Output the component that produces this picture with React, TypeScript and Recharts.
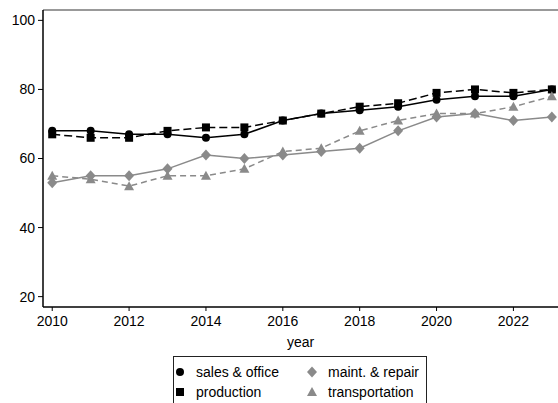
import { LineChart, Line, XAxis, YAxis, Legend, ReferenceLine } from 'recharts'

const years = [2010, 2011, 2012, 2013, 2014, 2015, 2016, 2017, 2018, 2019, 2020, 2021, 2022, 2023]
const salesOffice = [68, 68, 67, 67, 66, 67, 71, 73, 74, 75, 77, 78, 78, 80]
const production = [67, 66, 66, 68, 69, 69, 71, 73, 75, 76, 79, 80, 79, 80]
const maintRepair = [53, 55, 55, 57, 61, 60, 61, 62, 63, 68, 72, 73, 71, 72]
const transportation = [55, 54, 52, 55, 55, 57, 62, 63, 68, 71, 73, 73, 75, 78]
const xTicks = [2010, 2012, 2014, 2016, 2018, 2020, 2022]
const yTicks = [20, 40, 60, 80, 100]

const GRAY = '#8a8a8a'
const FONT = '"Liberation Sans", Arial, sans-serif'
const Y_TOP = 103

const data = years.map((year, i) => ({
  year,
  sales: salesOffice[i],
  production: production[i],
  maint: maintRepair[i],
  transport: transportation[i]
}))

const CircleDot = ({ cx, cy, color }: any) => <circle cx={cx} cy={cy} r={4} fill={color} />
const SquareDot = ({ cx, cy, color }: any) => <rect x={cx - 4} y={cy - 4} width={8} height={8} fill={color} />
const DiamondDot = ({ cx, cy, color }: any) => (
  <polygon points={`${cx},${cy - 5.5} ${cx + 5},${cy} ${cx},${cy + 5.5} ${cx - 5},${cy}`} fill={color} />
)
const TriangleDot = ({ cx, cy, color }: any) => (
  <polygon points={`${cx},${cy - 5} ${cx + 5},${cy + 4} ${cx - 5},${cy + 4}`} fill={color} />
)

const legendItems = [
  { label: 'sales & office', Shape: CircleDot, color: '#000', x: 7, y: 16 },
  { label: 'production', Shape: SquareDot, color: '#000', x: 7, y: 36 },
  { label: 'maint. & repair', Shape: DiamondDot, color: GRAY, x: 139, y: 16 },
  { label: 'transportation', Shape: TriangleDot, color: GRAY, x: 139, y: 36 }
]

// the legend box runs off the bottom of the image, so no bottom edge
function LegendBox() {
  return (
    <div style={{ position: 'relative', width: 254, height: 50, boxSizing: 'border-box', border: '1px solid #222', borderBottom: 'none', background: '#fff', fontFamily: FONT, fontSize: 14 }}>
      {legendItems.map(item => (
        <div key={item.label}>
          <svg width={12} height={12} style={{ position: 'absolute', left: item.x - 7, top: item.y - 7 }}>
            <item.Shape cx={6} cy={6} color={item.color} />
          </svg>
          <span style={{ position: 'absolute', left: item.x + 15, top: item.y - 9, lineHeight: '17px', color: '#000', whiteSpace: 'nowrap' }}>
            {item.label}
          </span>
        </div>
      ))}
    </div>
  )
}

export default function App() {
  return (
    <div style={{ position: 'absolute', left: 0, top: 0, width: 558, height: 403, background: '#fff' }}>
      <LineChart width={558} height={403} data={data} margin={{ top: 10, right: 0, bottom: 0, left: 0 }}>
        <XAxis
          dataKey="year"
          type="number"
          domain={[2009.76, 2023.16]}
          ticks={xTicks}
          allowDataOverflow
          height={46}
          tickSize={4}
          tickMargin={5}
          axisLine={{ stroke: '#000', strokeWidth: 1.5 }}
          tickLine={{ stroke: '#000' }}
          tick={{ fill: '#000', fontSize: 14, fontFamily: FONT }}
          label={{ value: 'year', position: 'insideBottom', offset: 6, fill: '#000', fontSize: 14, fontFamily: FONT }}
        />
        <YAxis
          type="number"
          domain={[17, Y_TOP]}
          ticks={yTicks}
          allowDataOverflow
          width={43}
          tickSize={5}
          tickMargin={3}
          axisLine={{ stroke: '#000', strokeWidth: 1.5 }}
          tickLine={{ stroke: '#000' }}
          tick={{ fill: '#000', fontSize: 14, fontFamily: FONT }}
        />
        <ReferenceLine y={Y_TOP} stroke="#777" strokeWidth={1.5} />
        <Legend
          verticalAlign="bottom"
          width={254}
          wrapperStyle={{ left: 173, bottom: -3 }}
          content={() => <LegendBox />}
        />
        <Line
          dataKey="sales"
          stroke="#000"
          strokeWidth={1.5}
          isAnimationActive={false}
          dot={(p: any) => <CircleDot key={`s-${p.index}`} cx={p.cx} cy={p.cy} color="#000" />}
        />
        <Line
          dataKey="production"
          stroke="#000"
          strokeWidth={1.5}
          strokeDasharray="8 4"
          isAnimationActive={false}
          dot={(p: any) => <SquareDot key={`p-${p.index}`} cx={p.cx} cy={p.cy} color="#000" />}
        />
        <Line
          dataKey="transport"
          stroke={GRAY}
          strokeWidth={1.5}
          strokeDasharray="6 4"
          isAnimationActive={false}
          dot={(p: any) => <TriangleDot key={`t-${p.index}`} cx={p.cx} cy={p.cy} color={GRAY} />}
        />
        <Line
          dataKey="maint"
          stroke={GRAY}
          strokeWidth={1.5}
          isAnimationActive={false}
          dot={(p: any) => <DiamondDot key={`m-${p.index}`} cx={p.cx} cy={p.cy} color={GRAY} />}
        />
      </LineChart>
    </div>
  )
}
